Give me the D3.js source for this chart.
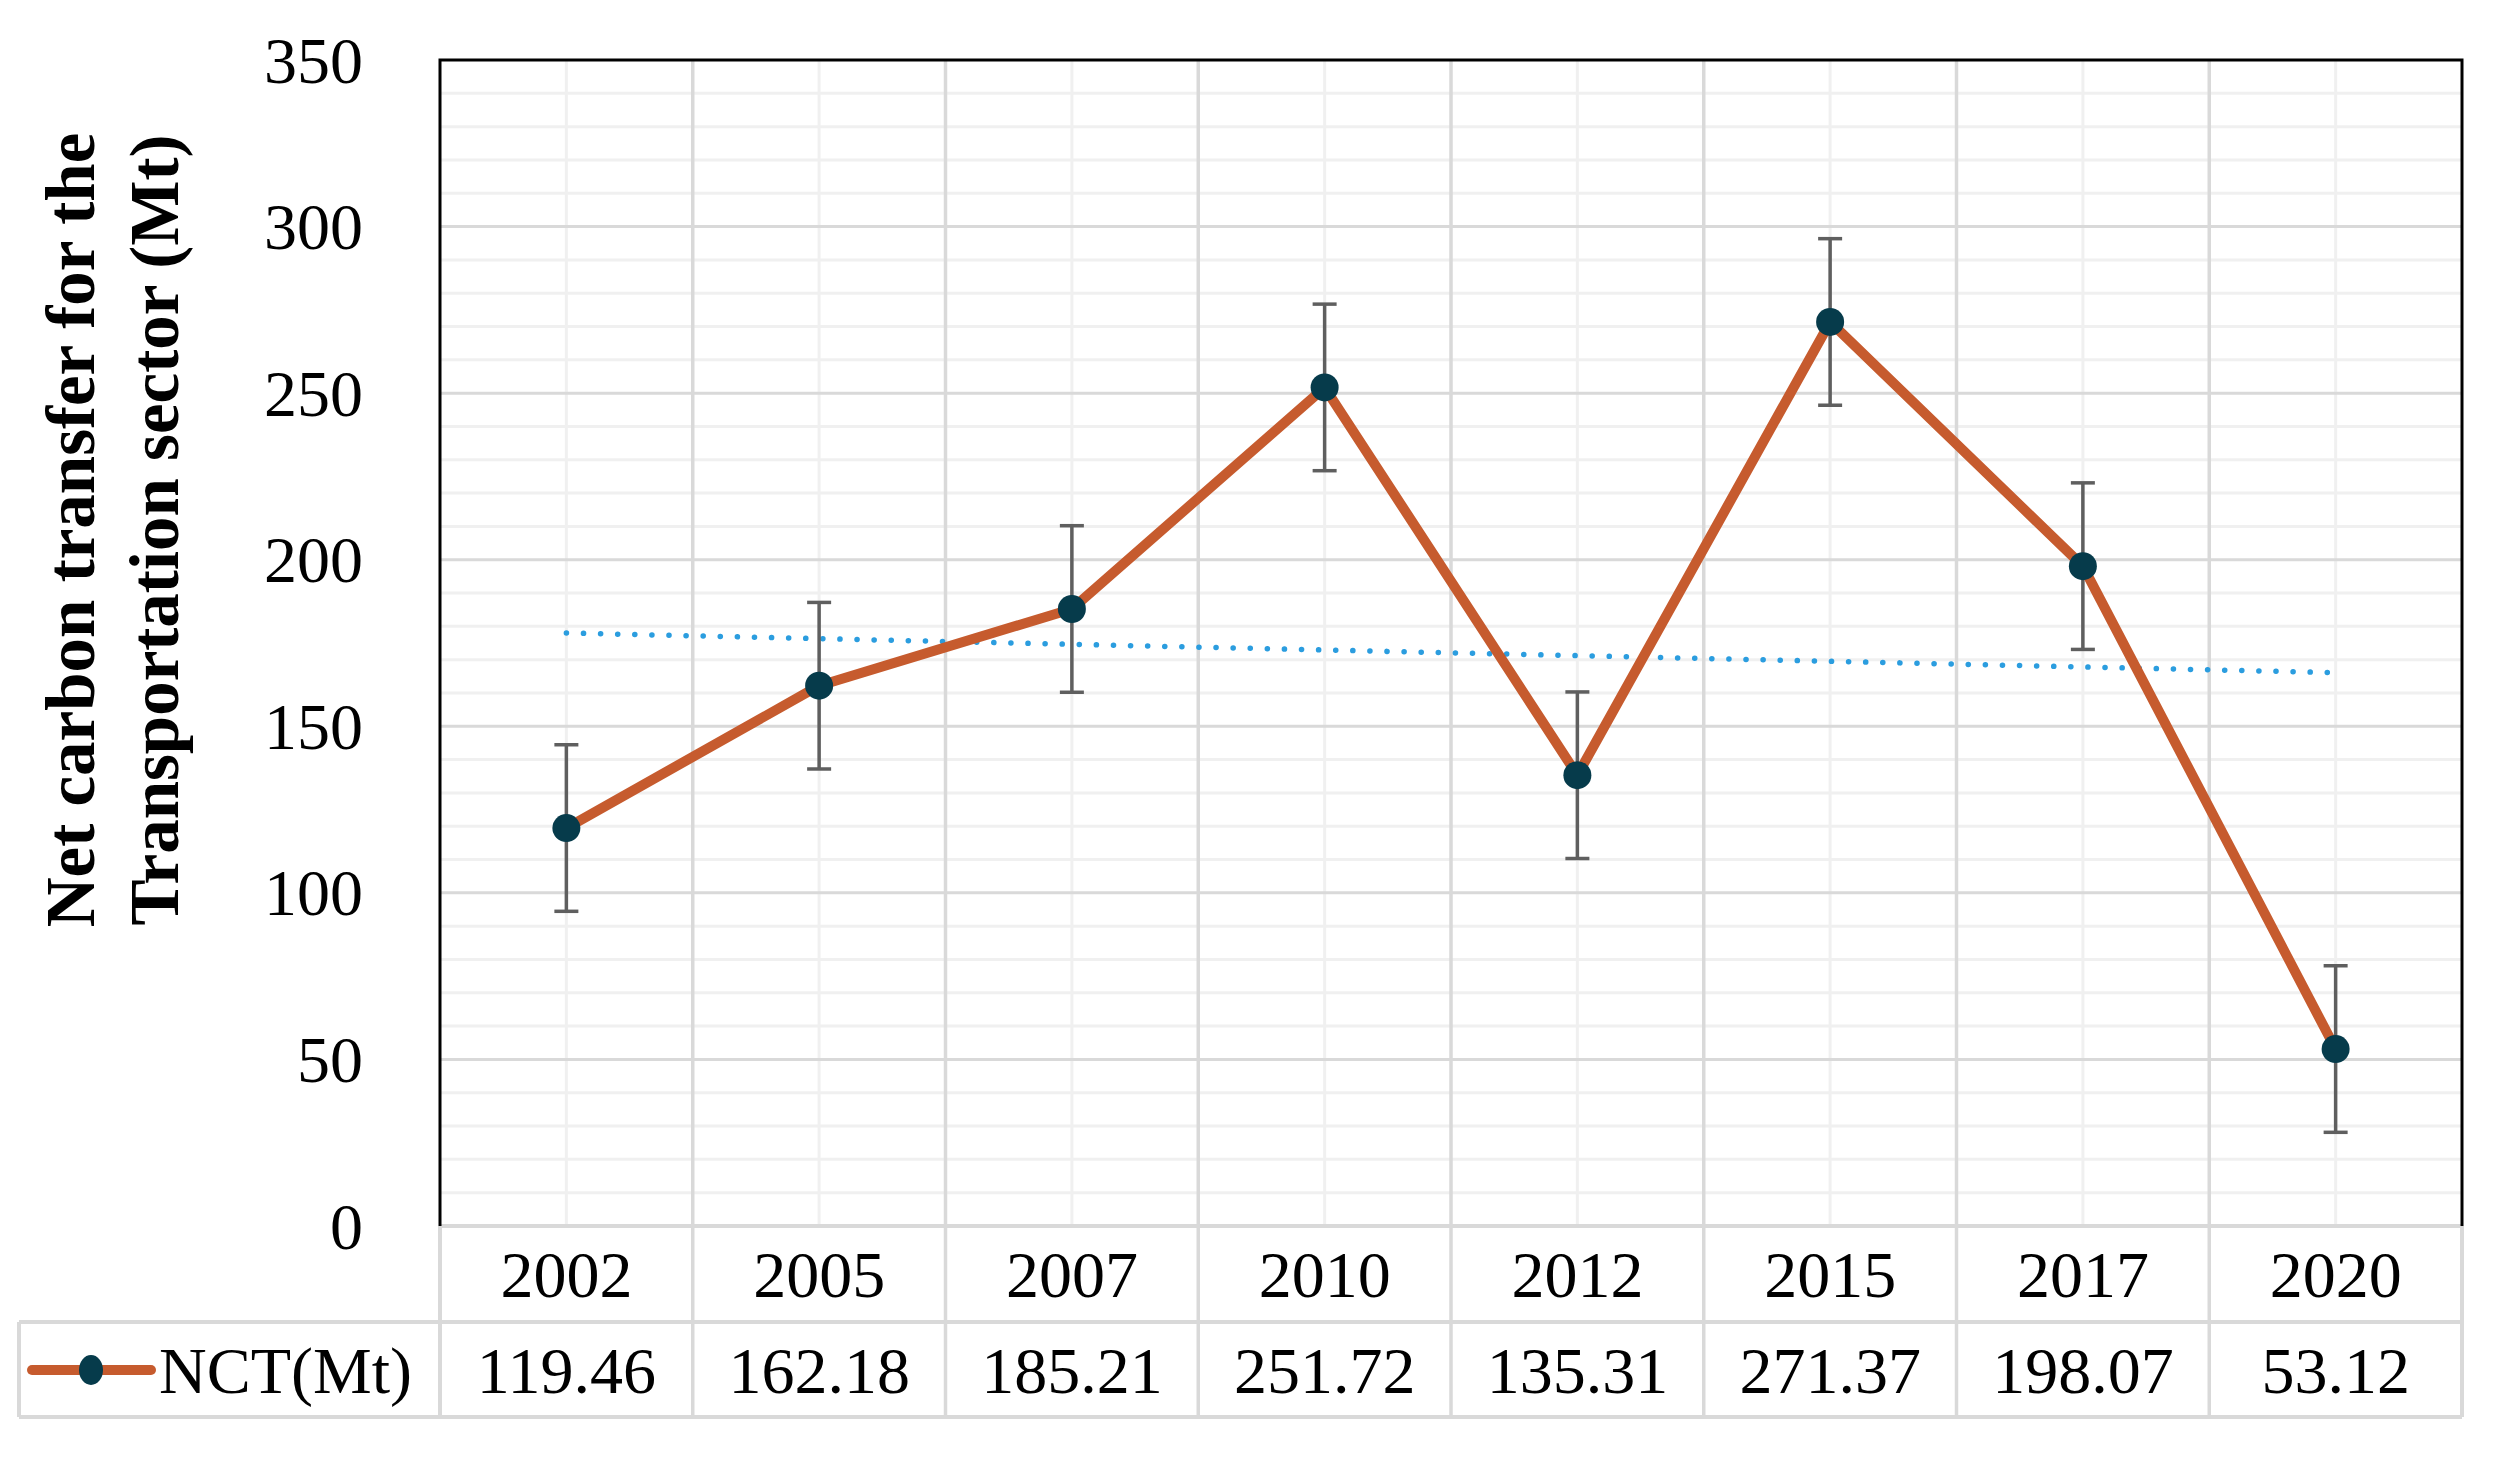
<!DOCTYPE html>
<html>
<head>
<meta charset="utf-8">
<script src="https://cdn.jsdelivr.net/npm/d3@7"></script>
<style>
  html, body { margin: 0; padding: 0; background: #fff; }
  svg { display: block; font-family: 'Liberation Serif', 'Times New Roman', serif; }
</style>
</head>
<body>
<div id="chart"></div>
<script>
const years = ['2002', '2005', '2007', '2010', '2012', '2015', '2017', '2020']
const nct = [119.46, 162.18, 185.21, 251.72, 135.31, 271.37, 198.07, 53.12]
const errorBar = 25
const yTicks = [0, 50, 100, 150, 200, 250, 300, 350]
const seriesName = 'NCT(Mt)'
const titleLines = ['Net carbon transfer for the', 'Transportation sector (Mt)']

const width = 2497
const height = 1462
const plot = { left: 440, right: 2462, top: 60, bottom: 1226 }
const table = { left: 19, mid: 1322, bottom: 1417 }
const lineColor = '#c65b2e'
const markerColor = '#063b4b'
const trendColor = '#2b9ddf'
const gridMajor = '#d9d9d9'
const gridMinor = '#f0f0f0'
const fontSize = 66

const svg = d3.select('#chart').append('svg')
  .attr('width', width)
  .attr('height', height)

const x = d3.scaleBand().domain(years).range([plot.left, plot.right])
const y = d3.scaleLinear().domain([0, 350]).range([plot.bottom, plot.top])
const cx = d => x(d) + x.bandwidth() / 2

// 網格線: 次要 (每 10) 與主要 (每 50)
const minorY = d3.range(10, 350, 10).filter(v => v % 50 !== 0)
svg.append('g').selectAll('line').data(minorY).join('line')
  .attr('x1', plot.left).attr('x2', plot.right)
  .attr('y1', d => y(d)).attr('y2', d => y(d))
  .attr('stroke', gridMinor).attr('stroke-width', 3)

svg.append('g').selectAll('line').data(years).join('line')
  .attr('x1', d => cx(d)).attr('x2', d => cx(d))
  .attr('y1', plot.top).attr('y2', plot.bottom)
  .attr('stroke', gridMinor).attr('stroke-width', 3)

svg.append('g').selectAll('line').data(yTicks.filter(v => v > 0 && v < 350)).join('line')
  .attr('x1', plot.left).attr('x2', plot.right)
  .attr('y1', d => y(d)).attr('y2', d => y(d))
  .attr('stroke', gridMajor).attr('stroke-width', 3)

// 類別分隔線 (延伸到表格底部)
svg.append('g').selectAll('line').data(years.slice(1)).join('line')
  .attr('x1', d => x(d)).attr('x2', d => x(d))
  .attr('y1', plot.top).attr('y2', table.bottom)
  .attr('stroke', gridMajor).attr('stroke-width', 3.5)

// 表格框線
const tbl = svg.append('g').attr('stroke', gridMajor).attr('stroke-width', 4).attr('fill', 'none')
tbl.append('line').attr('x1', plot.left).attr('x2', plot.right).attr('y1', plot.bottom).attr('y2', plot.bottom)
tbl.append('line').attr('x1', table.left).attr('x2', plot.right).attr('y1', table.mid).attr('y2', table.mid)
tbl.append('line').attr('x1', table.left).attr('x2', plot.right).attr('y1', table.bottom).attr('y2', table.bottom)
tbl.append('line').attr('x1', table.left).attr('x2', table.left).attr('y1', table.mid).attr('y2', table.bottom)
tbl.append('line').attr('x1', plot.left).attr('x2', plot.left).attr('y1', plot.bottom).attr('y2', table.bottom)
tbl.append('line').attr('x1', plot.right).attr('x2', plot.right).attr('y1', plot.bottom).attr('y2', table.bottom)

// 圖表外框 (上、左、右)
svg.append('path')
  .attr('d', `M${plot.left},${plot.bottom}V${plot.top}H${plot.right}V${plot.bottom}`)
  .attr('fill', 'none').attr('stroke', '#000').attr('stroke-width', 3)

// Y 軸刻度文字
svg.append('g').selectAll('text').data(yTicks).join('text')
  .attr('x', 363).attr('y', d => y(d))
  .attr('text-anchor', 'end').attr('dominant-baseline', 'central')
  .attr('font-size', fontSize)
  .text(d => d)

// Y 軸標題
svg.append('g').attr('transform', 'translate(0,530) rotate(-90)')
  .selectAll('text').data(titleLines).join('text')
  .attr('x', 0).attr('y', (d, i) => 71 + i * 84)
  .attr('text-anchor', 'middle').attr('dominant-baseline', 'central')
  .attr('font-size', 69).attr('font-weight', 'bold')
  .text(d => d)

// 線性趨勢線 (最小平方法)
const idx = years.map((d, i) => i + 1)
const mx = d3.mean(idx)
const my = d3.mean(nct)
const slope = d3.sum(idx, (v, i) => (v - mx) * (nct[i] - my)) / d3.sum(idx, v => (v - mx) ** 2)
const trendAt = i => my + slope * (i + 1 - mx)
svg.append('line')
  .attr('x1', cx(years[0])).attr('y1', y(trendAt(0)))
  .attr('x2', cx(years[years.length - 1])).attr('y2', y(trendAt(years.length - 1)))
  .attr('stroke', trendColor).attr('stroke-width', 5.5)
  .attr('stroke-linecap', 'round').attr('stroke-dasharray', '0.1,17')

// 誤差線
const eb = svg.append('g').attr('stroke', '#5f5f5f').attr('stroke-width', 3.5)
years.forEach((d, i) => {
  eb.append('line').attr('x1', cx(d)).attr('x2', cx(d))
    .attr('y1', y(nct[i] - errorBar)).attr('y2', y(nct[i] + errorBar))
  ;[-1, 1].forEach(s => {
    eb.append('line').attr('x1', cx(d) - 12).attr('x2', cx(d) + 12)
      .attr('y1', y(nct[i] + s * errorBar)).attr('y2', y(nct[i] + s * errorBar))
  })
})

// 折線
const line = d3.line().x((d, i) => cx(years[i])).y(d => y(d))
svg.append('path').datum(nct)
  .attr('d', line)
  .attr('fill', 'none').attr('stroke', lineColor).attr('stroke-width', 10)
  .attr('stroke-linejoin', 'round')

svg.append('g').selectAll('circle').data(nct).join('circle')
  .attr('cx', (d, i) => cx(years[i])).attr('cy', d => y(d))
  .attr('r', 14).attr('fill', markerColor)

// 表格文字: 年份與數值
svg.append('g').selectAll('text').data(years).join('text')
  .attr('x', d => cx(d)).attr('y', 1274)
  .attr('text-anchor', 'middle').attr('dominant-baseline', 'central')
  .attr('font-size', fontSize)
  .text(d => d)

svg.append('g').selectAll('text').data(nct).join('text')
  .attr('x', (d, i) => cx(years[i])).attr('y', 1370)
  .attr('text-anchor', 'middle').attr('dominant-baseline', 'central')
  .attr('font-size', fontSize)
  .text(d => d.toFixed(2))

// 圖例 key
const legend = svg.append('g')
legend.append('line').attr('x1', 32).attr('x2', 151).attr('y1', 1370).attr('y2', 1370)
  .attr('stroke', lineColor).attr('stroke-width', 10).attr('stroke-linecap', 'round')
legend.append('ellipse').attr('cx', 91).attr('cy', 1370).attr('rx', 12).attr('ry', 15).attr('fill', markerColor)
legend.append('text').attr('x', 159).attr('y', 1370)
  .attr('dominant-baseline', 'central').attr('font-size', fontSize)
  .text(seriesName)
</script>
</body>
</html>
